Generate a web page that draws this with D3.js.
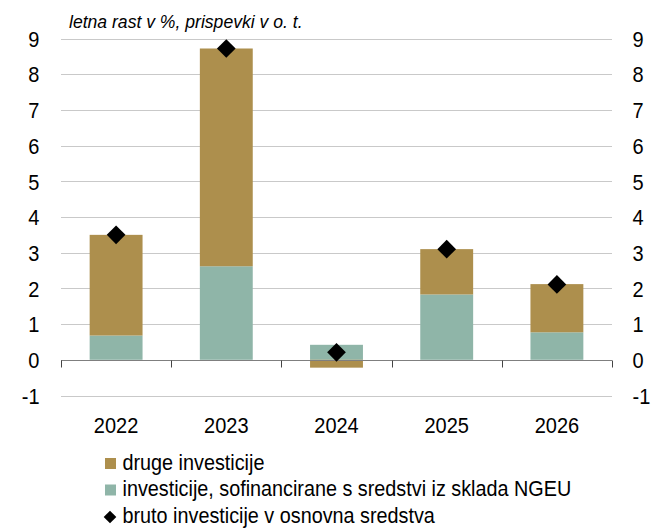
<!DOCTYPE html>
<html lang="sl">
<head>
<meta charset="UTF-8">
<title>Investicije</title>
<script src="https://d3js.org/d3.v7.min.js"></script>
<style>
    body { margin: 0; background: #fff; }
    svg text { font-family: "Liberation Sans", Arial, sans-serif; fill: #000; }
    .tick-label { font-size: 20px; }
    .year-label { font-size: 20px; }
    .legend-label { font-size: 19.8px; }
    .title { font-size: 17.6px; font-style: italic; }
</style>
</head>
<body>
<svg id="chart" width="652" height="529"></svg>
<script>
    // data
    const years = ['2022', '2023', '2024', '2025', '2026'];
    const ngeu = [0.68, 2.62, 0.42, 1.83, 0.77];       // investicije, sofinancirane s sredstvi iz sklada NGEU
    const other = [2.82, 6.10, -0.22, 1.27, 1.35];     // druge investicije
    const gross = [3.5, 8.72, 0.21, 3.1, 2.11];        // bruto investicije v osnovna sredstva
    const yTicks = [-1, 0, 1, 2, 3, 4, 5, 6, 7, 8, 9];

    const colGold = '#ad8f4d';
    const colGreen = '#8fb5a8';

    const svg = d3.select('#chart');
    const plotL = 61, plotR = 612, plotT = 38.5, plotB = 395.5;

    // the reference font is a bit taller than Liberation Sans, so stretch text vertically
    const stretch = (px, py, sy) => `translate(${px},${py}) scale(1,${sy})`;

    const x = d3.scaleBand().domain(years).range([plotL, plotR]).paddingInner(0.52).paddingOuter(0.26);
    const y = d3.scaleLinear().domain([-1, 9]).range([plotB, plotT]);

    // gridlines
    svg.append('g').selectAll('line')
        .data(yTicks.filter(d => d !== 0))
        .join('line')
        .attr('x1', plotL).attr('x2', plotR)
        .attr('y1', d => Math.round(y(d)) + 0.5).attr('y2', d => Math.round(y(d)) + 0.5)
        .attr('stroke', '#c9c9c9').attr('stroke-width', 1);

    // left and right tick labels
    svg.append('g').selectAll('text')
        .data(yTicks).join('text')
        .attr('class', 'tick-label')
        .attr('transform', d => stretch(39.5, y(d) + 8.2, 1.14))
        .attr('text-anchor', 'end')
        .text(d => d);
    svg.append('g').selectAll('text')
        .data(yTicks).join('text')
        .attr('class', 'tick-label')
        .attr('transform', d => stretch(632.5, y(d) + 8.2, 1.14))
        .attr('text-anchor', 'start')
        .text(d => d);

    // stacked bars: NGEU on the bottom, other stacked on top (or below zero if negative)
    const bars = svg.append('g');
    years.forEach((yr, i) => {
        const g0 = 0, g1 = ngeu[i];
        bars.append('rect')
            .attr('x', x(yr)).attr('width', x.bandwidth())
            .attr('y', y(Math.max(g0, g1))).attr('height', Math.abs(y(g1) - y(g0)))
            .attr('fill', colGreen);
        const o0 = other[i] >= 0 ? ngeu[i] : 0;
        const o1 = o0 + other[i];
        bars.append('rect')
            .attr('x', x(yr)).attr('width', x.bandwidth())
            .attr('y', y(Math.max(o0, o1))).attr('height', Math.abs(y(o1) - y(o0)))
            .attr('fill', colGold);
    });

    // x axis at zero with boundary ticks
    const zeroY = Math.round(y(0)) + 0.5;
    const step = (plotR - plotL) / years.length;
    svg.append('line')
        .attr('x1', plotL).attr('x2', plotR)
        .attr('y1', zeroY).attr('y2', zeroY)
        .attr('stroke', '#7f7f7f').attr('stroke-width', 1.2);
    svg.append('g').selectAll('line')
        .data(d3.range(years.length + 1)).join('line')
        .attr('x1', d => Math.round(plotL + d * step) + 0.5)
        .attr('x2', d => Math.round(plotL + d * step) + 0.5)
        .attr('y1', zeroY).attr('y2', zeroY + 7)
        .attr('stroke', '#444').attr('stroke-width', 1);

    // year labels
    svg.append('g').selectAll('text')
        .data(years).join('text')
        .attr('class', 'year-label')
        .attr('transform', d => stretch(x(d) + x.bandwidth() / 2, 432.7, 1.14))
        .attr('text-anchor', 'middle')
        .text(d => d);

    // diamonds
    const diamond = d3.symbol().type(d3.symbolSquare).size(175);
    svg.append('g').selectAll('path')
        .data(gross).join('path')
        .attr('d', diamond)
        .attr('transform', (d, i) => `translate(${x(years[i]) + x.bandwidth() / 2},${y(d)}) rotate(45)`)
        .attr('fill', '#000');

    // title
    svg.append('text').attr('class', 'title')
        .attr('transform', stretch(69, 28, 1.08))
        .text('letna rast v %, prispevki v o. t.');

    // legend
    const legend = svg.append('g');
    const items = [
        { label: 'druge investicije', type: 'rect', color: colGold },
        { label: 'investicije, sofinancirane s sredstvi iz sklada NGEU', type: 'rect', color: colGreen },
        { label: 'bruto investicije v osnovna sredstva', type: 'diamond', color: '#000' }
    ];
    items.forEach((it, i) => {
        const base = 469.5 + i * 26.5;
        if (it.type === 'rect') {
            legend.append('rect').attr('x', 105).attr('y', base - 11.5).attr('width', 11).attr('height', 11).attr('fill', it.color);
        } else {
            legend.append('path')
                .attr('d', d3.symbol().type(d3.symbolSquare).size(80))
                .attr('transform', `translate(110,${base - 5.5}) rotate(45)`)
                .attr('fill', it.color);
        }
        legend.append('text').attr('class', 'legend-label')
            .attr('transform', stretch(122.5, base, 1.08))
            .text(it.label);
    });
</script>
</body>
</html>
